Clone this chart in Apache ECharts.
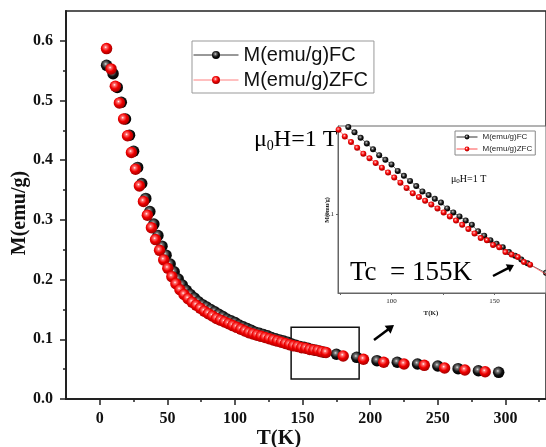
<!DOCTYPE html>
<html>
<head>
<meta charset="utf-8">
<script src="https://cdn.jsdelivr.net/npm/echarts@6/dist/echarts.min.js"></script>
<style>
html,body{margin:0;padding:0;background:#fff;}
#c{width:546px;height:447px;}
</style>
</head>
<body>
<div id="c"></div>
<script>
// ---- data ----
const fcT = [5, 9.8, 12.9, 15.9, 19, 22, 25, 28, 31, 34, 37, 40, 43, 46, 49, 52, 55, 58, 61, 64, 67, 70, 73, 76, 79, 82, 85, 88, 91, 94, 97, 100, 103, 106, 109, 112, 115, 118, 121, 124, 127, 130, 133, 136, 139, 142, 145, 148, 151, 154, 157, 160, 163, 166, 175, 190, 205, 220, 235, 250, 265, 280, 295];
const fcM = [0.559, 0.545, 0.522, 0.497, 0.469, 0.442, 0.415, 0.388, 0.361, 0.336, 0.314, 0.293, 0.274, 0.256, 0.241, 0.226, 0.213, 0.201, 0.191, 0.182, 0.175, 0.169, 0.163, 0.158, 0.154, 0.150, 0.146, 0.142, 0.138, 0.134, 0.131, 0.128, 0.124, 0.121, 0.118, 0.115, 0.112, 0.110, 0.108, 0.106, 0.103, 0.101, 0.099, 0.097, 0.095, 0.092, 0.090, 0.088, 0.0865, 0.085, 0.083, 0.0815, 0.080, 0.0785, 0.0749, 0.0698, 0.0642, 0.0615, 0.0586, 0.0553, 0.0508, 0.0474, 0.0447];
const zfcT = [5, 8.3, 11.5, 14.5, 17.6, 20.5, 23.4, 26.4, 29.3, 32.3, 35.2, 38.2, 41.2, 44.2, 47.3, 50.3, 53.3, 56.3, 59.3, 62.3, 65.3, 68.3, 71.3, 74.3, 77.3, 80.3, 83.3, 86.3, 89.3, 92.3, 95.3, 98.3, 101.3, 104.3, 107.3, 110.3, 113.3, 116.3, 119.3, 122.3, 125.3, 128.3, 131.3, 134.3, 137.3, 140.3, 143.3, 146.3, 149.3, 152.3, 155.3, 158.3, 161.3, 164.3, 167.3, 180, 195, 210, 225, 240, 255, 270, 285];
const zfcM = [0.587, 0.553, 0.524, 0.496, 0.469, 0.441, 0.413, 0.385, 0.357, 0.331, 0.308, 0.287, 0.267, 0.249, 0.233, 0.219, 0.205, 0.193, 0.183, 0.175, 0.168, 0.162, 0.157, 0.152, 0.147, 0.143, 0.139, 0.135, 0.132, 0.129, 0.126, 0.123, 0.120, 0.117, 0.114, 0.111, 0.109, 0.107, 0.105, 0.103, 0.101, 0.099, 0.097, 0.095, 0.093, 0.091, 0.089, 0.088, 0.086, 0.085, 0.083, 0.082, 0.081, 0.079, 0.078, 0.072, 0.0665, 0.0615, 0.0586, 0.0564, 0.0519, 0.0486, 0.0457];

const seriesNames = ['M(emu/g)FC', 'M(emu/g)ZFC'];
const xTickLabels = [0, 50, 100, 150, 200, 250, 300];
const xMinorTicks = [25, 75, 125, 175, 225, 275, 325];
const yTickLabels = [0.0, 0.1, 0.2, 0.3, 0.4, 0.5, 0.6];
const yMinorTicks = [0.05, 0.15, 0.25, 0.35, 0.45, 0.55];
const insetXTicks = [75, 100, 125, 150, 175];
const insetXLabels = [100, 150];
const insetYLabels = [0.1];
const zoomBox = [[141.5, 0.120], [191.8, 0.0335]];

// ---- build ----
const zip = (a, b) => a.map((v, i) => [v, b[i]]);
const fcData = zip(fcT, fcM);
const zfcData = zip(zfcT, zfcM);

const serif = "'Times New Roman','Liberation Serif','DejaVu Serif',serif";
const sans = "Arial,'Liberation Sans',Helvetica,sans-serif";

const redBall = {type:'radial', x:0.42, y:0.38, r:0.62, colorStops:[
  {offset:0, color:'#ffffff'}, {offset:0.18, color:'#ff7070'}, {offset:0.55, color:'#f00000'}, {offset:1, color:'#a00000'}]};
const blackBall = {type:'radial', x:0.42, y:0.38, r:0.62, colorStops:[
  {offset:0, color:'#e0e0e0'}, {offset:0.2, color:'#777'}, {offset:0.6, color:'#111'}, {offset:1, color:'#000'}]};

function arrow(x1, y1, x2, y2, w, hl, hw) {
  const dx = x2 - x1, dy = y2 - y1, L = Math.hypot(dx, dy);
  const ux = dx / L, uy = dy / L, px = -uy, py = ux;
  const bx = x2 - ux * hl, by = y2 - uy * hl;
  return [
    {type:'line', z:30, shape:{x1:x1, y1:y1, x2:bx + ux*1, y2:by + uy*1}, style:{stroke:'#000', lineWidth:w}},
    {type:'polygon', z:30, shape:{points:[[x2, y2], [bx + px*hw, by + py*hw], [bx - px*hw, by - py*hw]]}, style:{fill:'#000'}}
  ];
}

const chart = echarts.init(document.getElementById('c'), null, {renderer:'canvas'});

const mainLbl = {fontFamily: serif, fontWeight:'bold', fontSize:16, color:'#111'};

const option = {
  backgroundColor:'#fff',
  animation:false,
  grid:[
    {left:66, top:11, width:487, height:388, show:true, borderColor:'#222', borderWidth:1.5, backgroundColor:'transparent'},
    {left:338, top:126, width:214, height:167, show:true, borderColor:'#666', borderWidth:1, backgroundColor:'#fff', z:5}
  ],
  xAxis:[
    {gridIndex:0, type:'value', min:-25, max:330, position:'bottom',
      axisLine:{show:true, onZero:false, lineStyle:{color:'#222', width:2}},
      axisTick:{show:true, inside:false, length:6, customValues:xTickLabels, lineStyle:{color:'#222', width:1.5}},
      axisLabel:{show:true, customValues:xTickLabels, margin:12, ...mainLbl},
      splitLine:{show:false}},
    {gridIndex:0, type:'value', min:-25, max:330, position:'bottom',
      axisLine:{show:false, onZero:false},
      axisTick:{show:true, length:3, customValues:xMinorTicks, lineStyle:{color:'#222', width:1.5}},
      axisLabel:{show:false}, splitLine:{show:false}},
    {gridIndex:1, type:'value', min:74, max:175, position:'bottom', z:6,
      axisLine:{show:true, onZero:false, lineStyle:{color:'#666', width:1}},
      axisTick:{show:true, length:2, customValues:insetXTicks, lineStyle:{color:'#666'}},
      axisLabel:{show:true, customValues:insetXLabels, margin:5, fontFamily:serif, fontSize:7, color:'#222'},
      splitLine:{show:false}}
  ],
  yAxis:[
    {gridIndex:0, type:'value', min:0, max:0.65, position:'left',
      axisLine:{show:true, onZero:false, lineStyle:{color:'#222', width:2}},
      axisTick:{show:true, length:6, customValues:yTickLabels, lineStyle:{color:'#222', width:1.5}},
      axisLabel:{show:true, customValues:yTickLabels, margin:13, formatter:v => v.toFixed(1), ...mainLbl},
      splitLine:{show:false}},
    {gridIndex:0, type:'value', min:0, max:0.65, position:'left',
      axisLine:{show:false, onZero:false},
      axisTick:{show:true, length:3, customValues:yMinorTicks, lineStyle:{color:'#222', width:1.5}},
      axisLabel:{show:false}, splitLine:{show:false}},
    {gridIndex:1, type:'log', logBase:10, min:0.0678, max:0.1548, position:'left', z:6,
      axisLine:{show:true, onZero:false, lineStyle:{color:'#666', width:1}},
      axisTick:{show:true, length:2, customValues:insetYLabels, lineStyle:{color:'#666'}},
      axisLabel:{show:true, customValues:insetYLabels, margin:4, formatter:v => Number(v).toFixed(1), fontFamily:serif, fontSize:7, color:'#222'},
      splitLine:{show:false}, minorTick:{show:false}}
  ],
  legend:[
    {left:192, top:41, orient:'vertical', selectedMode:false,
      itemWidth:45, itemHeight:10, itemGap:5, padding:[4,6,3,1],
      borderColor:'#999', borderWidth:1, backgroundColor:'#fff',
      textStyle:{fontFamily:sans, fontSize:20, color:'#111'},
      data:[
        {name:seriesNames[0], lineStyle:{color:'#333', width:1, opacity:1}},
        {name:seriesNames[1], lineStyle:{color:'#ff8080', width:1, opacity:1}}
      ]},
    {left:455, top:131, orient:'vertical', selectedMode:false, z:8,
      itemWidth:21, itemHeight:6, itemGap:4, padding:[2,3,2,1],
      borderColor:'#888', borderWidth:1, backgroundColor:'#fff',
      textStyle:{fontFamily:sans, fontSize:8, color:'#222'},
      data:[
        {name:seriesNames[0], lineStyle:{color:'#333', width:1, opacity:1}},
        {name:seriesNames[1], lineStyle:{color:'#ff5050', width:1, opacity:1}}
      ]}
  ],
  series:[
    {name:seriesNames[0], type:'line', xAxisIndex:0, yAxisIndex:0, data:fcData,
      symbol:'circle', symbolSize:11.5, showAllSymbol:true,
      itemStyle:{color:blackBall, borderWidth:0},
      lineStyle:{color:'#333', width:1, opacity:0}, z:2},
    {name:seriesNames[1], type:'line', xAxisIndex:0, yAxisIndex:0, data:zfcData,
      symbol:'circle', symbolSize:11.5, showAllSymbol:true,
      itemStyle:{color:redBall, borderWidth:0},
      lineStyle:{color:'#ff8080', width:1, opacity:0}, z:3,
      markArea:{silent:true, itemStyle:{color:'rgba(0,0,0,0)', borderColor:'#111', borderWidth:1.5},
        data:[[{coord:zoomBox[0]}, {coord:zoomBox[1]}]]}},
    {name:seriesNames[0], type:'line', xAxisIndex:2, yAxisIndex:2, data:fcData, clip:true,
      symbol:'circle', symbolSize:6, showAllSymbol:true,
      itemStyle:{color:blackBall, borderWidth:0},
      lineStyle:{color:'#555', width:0.8}, z:10},
    {name:seriesNames[1], type:'line', xAxisIndex:2, yAxisIndex:2, data:zfcData, clip:true,
      symbol:'circle', symbolSize:6, showAllSymbol:true,
      itemStyle:{color:redBall, borderWidth:0},
      lineStyle:{color:'#ff5050', width:0.8}, z:11}
  ],
  graphic:[
    {type:'text', x:20, y:213, rotation:Math.PI/2, z:30,
      style:{text:'M(emu/g)', font:"bold 20px " + serif, fill:'#111', align:'center', verticalAlign:'middle'}},
    {type:'text', x:279, y:439, z:30,
      style:{text:'T(K)', font:"bold 21px " + serif, fill:'#111', align:'center', verticalAlign:'middle'}},
    {type:'text', x:254, y:140, z:1,
      style:{text:'{a|μ}{s|0}{a|H=1 T}', verticalAlign:'middle',
        rich:{a:{fontFamily:serif, fontSize:24, color:'#000'}, s:{fontFamily:serif, fontSize:14, color:'#000', padding:[12,0,0,0]}}}},
    {type:'text', x:451, y:179, z:30,
      style:{text:'{a|μ}{s|0}{a|H=1 T}', verticalAlign:'middle',
        rich:{a:{fontFamily:serif, fontSize:10, color:'#222'}, s:{fontFamily:serif, fontSize:7, color:'#222', padding:[5,0,0,0]}}}},
    {type:'text', x:350, y:273, z:30,
      style:{text:'Tc  = 155K', font:"27px " + serif, fill:'#000', align:'left', verticalAlign:'middle'}},
    {type:'text', x:327, y:210, rotation:Math.PI/2, z:30,
      style:{text:'M(emu/g)', font:"bold 6px " + serif, fill:'#222', align:'center', verticalAlign:'middle'}},
    {type:'text', x:431, y:313, z:30,
      style:{text:'T(K)', font:"bold 7px " + serif, fill:'#222', align:'center', verticalAlign:'middle'}},
    {type:'group', z:30, children: arrow(374, 340, 394, 325, 2.5, 8, 5)},
    {type:'group', z:30, children: arrow(493, 276, 514, 265, 2.5, 7, 4.5)}
  ]
};
chart.setOption(option);
</script>
</body>
</html>
